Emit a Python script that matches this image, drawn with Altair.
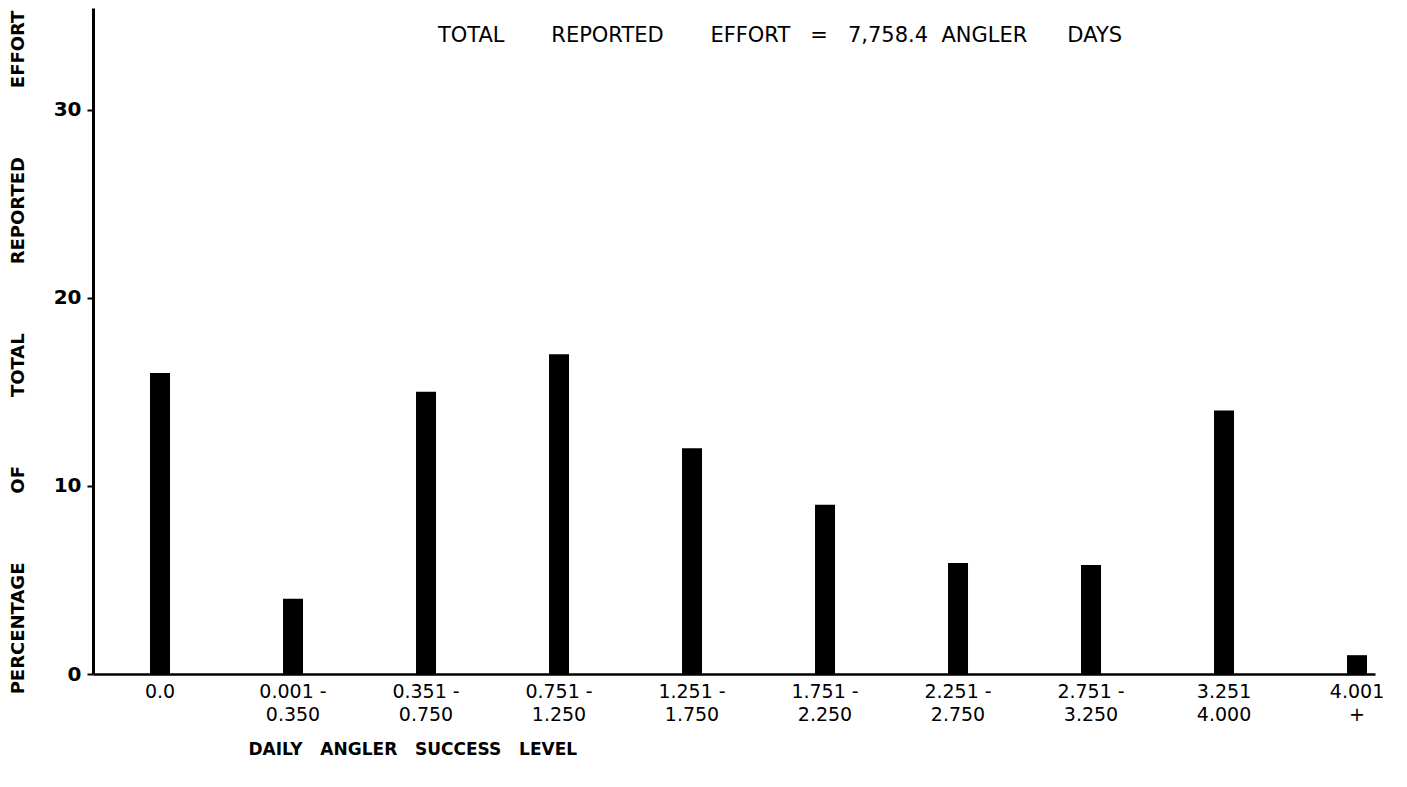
import altair as alt
import pandas as pd

NB = "\u00a0"

categories = ["0.0", "0.001 -|0.350", "0.351 -|0.750", "0.751 -|1.250", "1.251 -|1.750",
              "1.751 -|2.250", "2.251 -|2.750", "2.751 -|3.250", "3.251|4.000", "4.001|+"]
percent = [16, 4, 15, 17, 12, 9, 5.9, 5.8, 14, 1]
y_ticks = [0, 10, 20, 30]

df = pd.DataFrame({"level": categories, "pct": percent})

FONT = "DejaVu Sans"

y_title = (NB * 11).join(["PERCENTAGE", "OF", "TOTAL", "REPORTED", "EFFORT"])
x_title = (NB * 3).join(["DAILY", "ANGLER", "SUCCESS", "LEVEL"])
top_text = ("TOTAL" + NB * 7 + "REPORTED" + NB * 7 + "EFFORT" + NB * 3 + "=" + NB * 3
            + "7,758.4" + NB * 2 + "ANGLER" + NB * 6 + "DAYS")

chart = alt.Chart(df).mark_bar(color="black", size=20).encode(
    x=alt.X("level:N", sort=categories,
            scale=alt.Scale(paddingInner=0.85, paddingOuter=0.2445, align=0.877),
            axis=alt.Axis(title=x_title, ticks=False, labelAngle=0,
                          labelExpr="split(datum.label, '|')",
                          labelFont=FONT, labelFontSize=19, labelFontWeight="normal",
                          labelColor="black", labelPadding=8, labelLineHeight=23,
                          domainColor="black", domainWidth=2.5,
                          titleFont=FONT, titleFontSize=17, titleFontWeight="bold",
                          titleColor="black", titleX=155, titleY=75, titleAlign="left",
                          titleBaseline="middle", titleAnchor="start")),
    y=alt.Y("pct:Q",
            scale=alt.Scale(domain=[0, 35.4], nice=False, zero=True),
            axis=alt.Axis(title=y_title, values=y_ticks, grid=False,
                          tickSize=6, tickColor="black", tickWidth=2,
                          domainColor="black", domainWidth=3,
                          labelFont=FONT, labelFontSize=20, labelFontWeight="bold",
                          labelColor="black", labelPadding=6,
                          titleFont=FONT, titleFontSize=18, titleFontWeight="bold",
                          titleColor="black", titleX=-75, titleY=344, titleAngle=270,
                          titleAlign="center", titleBaseline="middle")),
).properties(
    width=1282,
    height=666,
    title=alt.TitleParams(text=top_text, font=FONT, fontSize=21, fontWeight="normal",
                          color="black", anchor="middle", dx=46, dy=38, offset=0),
    autosize=alt.AutoSizeParams(type="none"),
    padding={"left": 85, "top": 0, "right": 20, "bottom": 100},
).configure(background="white").configure_view(stroke=None)

chart.save("out.html", embed_options={"renderer": "svg", "actions": False})
